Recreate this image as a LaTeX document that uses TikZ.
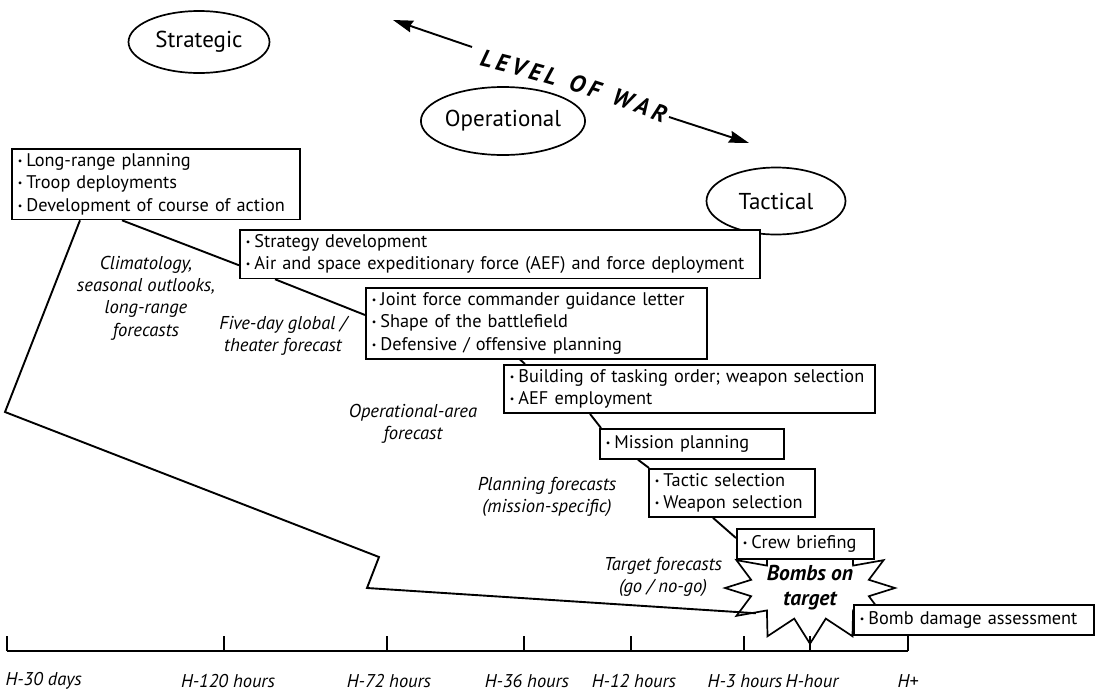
\documentclass[tikz,border=0pt]{standalone}
\usepackage{fontspec}
\setmainfont{PT Sans}
\usetikzlibrary{arrows.meta,positioning,calc,shapes.geometric,shapes.symbols,decorations.text}

\newcommand{\bul}{\raisebox{0.12em}{\scalebox{0.55}{\textbullet}}\hspace{0.22em}}

\begin{document}
\begin{tikzpicture}[
    x=1pt, y=-1pt,
    box/.style={
        draw,
        line width=1.7pt,
        fill=white,
        anchor=north west,
        align=left,
        inner xsep=6pt,
        inner ysep=4.5pt,
        font=\fontsize{18.3}{22.5}\selectfont
    },
    level/.style={
        draw,
        ellipse,
        line width=1.7pt,
        inner sep=0pt,
        font=\fontsize{23}{27}\selectfont
    },
    fcast/.style={align=center, font=\itshape\fontsize{18.6}{22.3}\selectfont},
    tlabel/.style={font=\itshape\fontsize{18.5}{20}\selectfont},
    line/.style={line width=1.9pt},
    arrow/.style={-{Stealth[length=20pt,width=12pt,inset=2pt]}, line width=1.9pt}
]
\useasboundingbox (0,0) rectangle (1098,694);

% levels of war
\node[level, minimum width=141pt, minimum height=62pt] (strat) at (199,42) {Strategic};
\node[level, minimum width=139pt, minimum height=68pt] (oper) at (503,121) {Operational};
\node[level, minimum width=139pt, minimum height=67pt] (tact) at (776,201) {Tactical};

\coordinate (lw1) at (472,47);
\coordinate (lw1tip) at (393,20);
\coordinate (lw2) at (669,117);
\coordinate (lw2tip) at (749,143);
\draw[arrow] (lw1) -- (lw1tip);
\draw[arrow] (lw2) -- (lw2tip);
\path[decorate, decoration={text along path, text align=fit to path,
    text={|\bfseries\itshape\fontsize{24}{24}\selectfont|LEVEL OF WAR}}]
    (479,66) .. controls (540,80) and (600,99) .. (663,123);

% planning steps
\node[box, text width=276pt] (b1) at (11,148) {\bul Long-range planning\\\bul Troop deployments\\\bul Development of course of action};
\node[box, text width=508pt] (b2) at (239,229) {\bul Strategy development\\\bul Air and space expeditionary force (AEF) and force deployment};
\node[box, text width=329pt] (b3) at (365,287) {\bul Joint force commander guidance letter\\\bul Shape of the battlefield\\\bul Defensive / offensive planning};
\node[box, text width=359pt] (b4) at (503,364) {\bul Building of tasking order; weapon selection\\\bul AEF employment};
\node[box, text width=172pt, minimum height=30pt] (b5) at (599,428) {\bul Mission planning};
\node[box, text width=154pt] (b6) at (648,468) {\bul Tactic selection\\\bul Weapon selection};

\node[draw, starburst, starburst points=12, starburst point height=24pt,
    random starburst=0, line width=1.7pt, fill=white, align=center,
    inner sep=0pt, minimum width=165pt, minimum height=92pt,
    font=\bfseries\itshape\fontsize{21.5}{25}\selectfont] (bomb) at (810,588) {Bombs on\\target};

\node[box, text width=125pt, minimum height=30pt] (b7) at (736,528) {\bul Crew briefing};
\node[box, text width=228pt, minimum height=30pt] (b8) at (853,604) {\bul Bomb damage assessment};

% forecasts
\node[fcast] (clim) at (146,298) {Climatology,\\seasonal outlooks,\\long-range\\forecasts};
\node[fcast] (five) at (283,336) {Five-day global /\\theater forecast};
\node[fcast] (opar) at (413,424) {Operational-area\\forecast};
\node[fcast] (plan) at (547,497) {Planning forecasts\\(mission-specific)};
\node[fcast] (targ) at (663,577) {Target forecasts\\(go / no-go)};

\draw[line] ($(b1.south west)+(111,0)$) -- ($(b2.south west)+(0,-14)$);
\draw[line] ($(b2.south west)+(36,0)$) -- ($(b3.north west)+(0,28)$);
\draw[line] ($(b3.south west)+(155,0)$) -- ($(b4.north west)+(22,0)$);
\draw[line] ($(b4.south west)+(87,0)$) -- ($(b5.north west)+(2,0)$);
\draw[line] ($(b5.south west)+(39,0)$) -- ($(b6.north west)+(1,0)$);
\draw[line] ($(b6.south west)+(65,0)$) -- ($(b7.north west)+(0,10)$);

\coordinate (k1) at (5,412);
\coordinate (k2) at (379,557);
\coordinate (k3) at (367,588);
\draw[line] ($(b1.south west)+(69,0)$) -- (k1) -- (k2) -- (k3) -- (bomb.205);

% time line
\draw[line] (7,651) -- (908,651);
\foreach \x in {7,224,387,524,631,744,810,908}
    \draw[line] (\x,651) -- (\x,636);
\node[tlabel, anchor=west] (t1) at (2,681) {H-30 days};
\node[tlabel] (t2) at (228,681) {H-120 hours};
\node[tlabel] (t3) at (389,681) {H-72 hours};
\node[tlabel] (t4) at (527,681) {H-36 hours};
\node[tlabel] (t5) at (634,681) {H-12 hours};
\node[tlabel] (t6) at (745,681) {H-3 hours};
\node[tlabel] (t7) at (812,681) {H-hour};
\node[tlabel] (t8) at (908,681) {H+};
\end{tikzpicture}
\end{document}
